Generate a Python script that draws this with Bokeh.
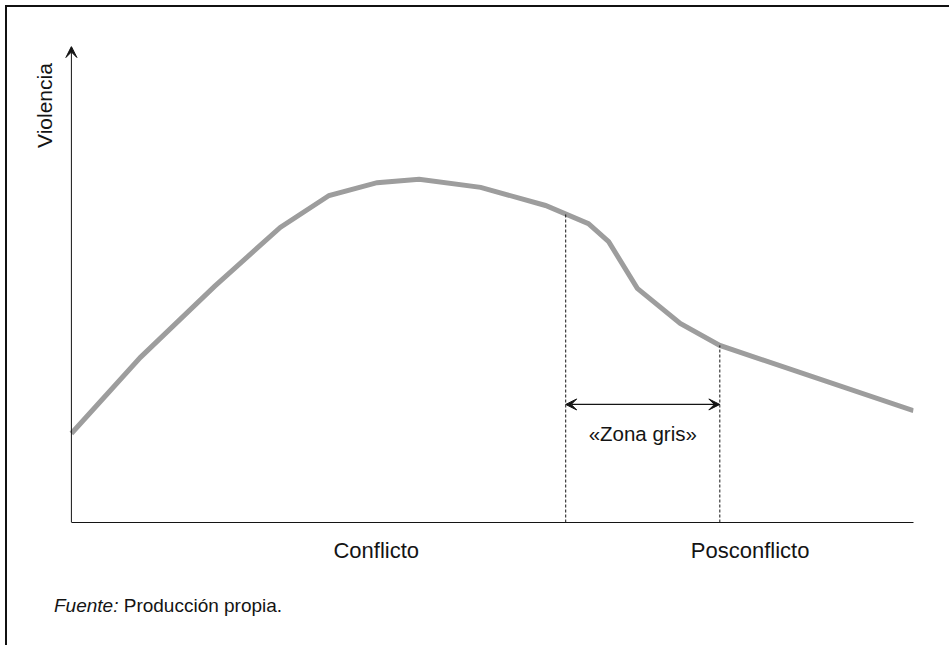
import numpy as np
from math import pi
from bokeh.plotting import figure
from bokeh.layouts import column
from bokeh.models import Range1d, FixedTicker, Arrow, VeeHead, Label, Div
from bokeh.core.properties import value
from bokeh.embed import file_html
from bokeh.resources import INLINE

# ---- data ----
time = [0, 8.2, 17.0, 24.8, 30.6, 36.3, 41.3, 48.6, 56.3, 61.4, 63.8, 67.2, 72.3, 77.0, 100]
violence = [18.7, 34.7, 49.6, 62.0, 68.7, 71.4, 72.1, 70.4, 66.6, 62.8, 59.0, 49.2, 41.8, 37.2, 23.5]
zone_bounds = [58.7, 77.0]
zone_label = "«Zona gris»"
arrow_level = 24.8
phase_ticks = [36.2, 80.6]
phase_labels = ["Conflicto", "Posconflicto"]
y_label = "Violencia"
source_italic = "Fuente:"
source_text = "Producción propia."

FONT = "Liberation Sans"
INK = "#141414"

p = figure(width=940, height=583, output_backend="svg", toolbar_location=None,
           x_range=Range1d(-4.5, 100), y_range=Range1d(0, 100),
           min_border_left=26, min_border_right=34, min_border_top=39, min_border_bottom=68)
p.outline_line_color = None
p.xgrid.visible = False
p.ygrid.visible = False
p.background_fill_color = "white"
p.border_fill_color = "white"
p.yaxis.visible = False

# x axis: phase labels, line only over the data span
p.xaxis.bounds = (0, 100)
p.xaxis.ticker = FixedTicker(ticks=phase_ticks)
p.xaxis.major_label_overrides = {t: l for t, l in zip(phase_ticks, phase_labels)}
p.xaxis.major_tick_line_color = None
p.xaxis.minor_tick_line_color = None
p.xaxis.major_tick_out = 0
p.xaxis.major_label_standoff = 15
p.xaxis.major_label_text_font = FONT
p.xaxis.major_label_text_font_size = "22px"
p.xaxis.major_label_text_color = INK
p.xaxis.axis_line_color = INK
p.xaxis.axis_line_width = 1

# y axis drawn as an arrow
p.add_layout(Arrow(end=VeeHead(size=11, fill_color=INK, line_color=INK, line_width=1),
                   x_start=0, y_start=0, x_end=0, y_end=100,
                   line_color=INK, line_width=1))
p.text(x=[-3.2], y=[87.6], text=[y_label], angle=pi / 2,
       text_align="center", text_baseline="alphabetic",
       text_font=value(FONT), text_font_size="21px", text_color=INK)

# curve
p.line(time, violence, line_width=5, color="#9d9d9d", line_join="miter")

# dashed boundaries of the grey zone
zone_top = np.interp(zone_bounds, time, violence)
p.segment(x0=zone_bounds, y0=[0, 0], x1=zone_bounds, y1=list(zone_top),
          line_dash="3 2", line_color=INK, line_width=1)

# double arrow
p.add_layout(Arrow(start=VeeHead(size=11, fill_color=INK, line_color=INK, line_width=1),
                   end=VeeHead(size=11, fill_color=INK, line_color=INK, line_width=1),
                   x_start=zone_bounds[0], y_start=arrow_level,
                   x_end=zone_bounds[1], y_end=arrow_level,
                   line_color=INK, line_width=1.3))
p.add_layout(Label(x=sum(zone_bounds) / 2, y=18.7, text=zone_label,
                   text_align="center", text_baseline="middle",
                   text_font=FONT, text_font_size="20.5px", text_color=INK))

# source note (below the figure)
note = Div(text=f"<i>{source_italic}</i> {source_text}", width=940, height=48,
           styles={"font-family": FONT, "font-size": "19px", "color": INK,
                   "padding-left": "42px", "padding-top": "0px", "line-height": "normal"})

layout = column(p, note, spacing=0,
                styles={"margin-left": "5px", "margin-top": "5px",
                        "border-top": "2px solid #111", "border-left": "2px solid #111",
                        "background-color": "white"})

open("out.html", "w").write(file_html(layout, INLINE))
